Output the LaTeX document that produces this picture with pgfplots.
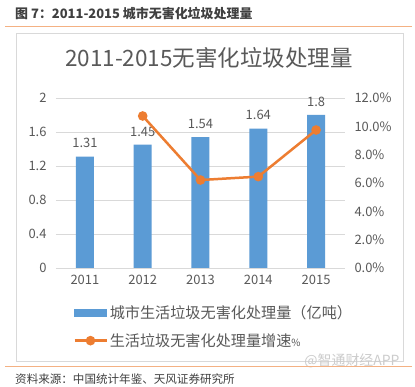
\documentclass[border=0pt]{standalone}
\usepackage{pgfplots}
\pgfplotsset{compat=1.18}
\usepackage{fontspec}
\setmainfont{Noto Sans CJK SC}
\definecolor{barblue}{HTML}{5B9BD5}
\definecolor{lineorange}{HTML}{ED7D31}
\definecolor{txtgray}{HTML}{595959}
\definecolor{gridgray}{HTML}{D9D9D9}
\definecolor{hdrline}{HTML}{F4B183}
\definecolor{hdrtext}{HTML}{404040}
\begin{document}
\begin{tikzpicture}[x=1bp,y=1bp]
\path[use as bounding box, fill=white] (0,0) rectangle (415,387);
\node[anchor=west, font=\fontsize{13}{15}\selectfont\bfseries, text=hdrtext, inner sep=0] at (15,373) {图 7：2011-2015 城市无害化垃圾处理量};
\draw[hdrline, line width=1bp] (5,360) -- (412,360);
\draw[gridgray, line width=0.8bp] (16,26) rectangle (403,354);
\node[font=\fontsize{22.6}{26}\selectfont, text=txtgray] at (209,329) {2011-2015无害化垃圾处理量};
\begin{axis}[
  at={(56bp,119bp)}, anchor=south west, scale only axis,
  width=289bp, height=170bp,
  xmin=-0.5, xmax=4.5, ymin=0, ymax=2,
  xtick={0,1,2,3,4}, xticklabels={2011,2012,2013,2014,2015},
  ytick={0,0.4,0.8,1.2,1.6,2},
  yticklabels={0,0.4,0.8,1.2,1.6,2},
  axis line style={draw=none}, major tick length=0,
  ymajorgrids, grid style={gridgray, line width=0.8bp},
  tick label style={font=\fontsize{13}{15}\selectfont, text=txtgray},
  yticklabel style={xshift=-6bp},
  xticklabel style={yshift=-4bp},
]
\addplot[ybar, bar width=18bp, fill=barblue, draw=none,
  point meta=explicit symbolic, nodes near coords,
  nodes near coords style={font=\fontsize{13}{15}\selectfont, text=txtgray, yshift=5bp}]
  coordinates {(0,1.31)[1.31] (1,1.45)[1.45] (2,1.54)[1.54] (3,1.64)[1.64] (4,1.8)[1.8]};
\end{axis}
\begin{axis}[
  at={(56bp,119bp)}, anchor=south west, scale only axis,
  width=289bp, height=170bp,
  xmin=-0.5, xmax=4.5, ymin=0, ymax=12,
  hide x axis,
  yticklabel pos=right,
  ytick={0,2,4,6,8,10,12},
  yticklabels={0.0\%,2.0\%,4.0\%,6.0\%,8.0\%,10.0\%,12.0\%},
  axis line style={draw=none}, major tick length=0,
  tick label style={font=\fontsize{13}{15}\selectfont, text=txtgray},
  yticklabel style={xshift=6bp},
  legend style={at={(0.059,-0.205)}, anchor=north west, draw=none, fill=none,
    inner sep=0pt, row sep=10bp, font=\fontsize{15.2}{17}\selectfont, text=txtgray,
    nodes={inner sep=2bp}},
  legend cell align=left,
]
\addlegendimage{legend image code/.code={\fill[barblue] (0bp,-3.5bp) rectangle (32bp,3.5bp);}}
\addlegendentry{城市生活垃圾无害化处理量（亿吨）}
\addplot[lineorange, line width=2.5bp, mark=*, mark size=3.5bp,
  legend image code/.code={\draw[lineorange,line width=2.5bp] (0bp,0bp) -- (32bp,0bp); \fill[lineorange] (16bp,0bp) circle (3.5bp);}]
  coordinates {(1,10.73) (2,6.21) (3,6.45) (4,9.74)};
\addlegendentry{生活垃圾无害化处理量增速{\fontsize{10}{12}\selectfont\%}}
\end{axis}
\node[font=\fontsize{14}{16}\selectfont, text=gray!40] at (352,26) {@智通财经APP};
\draw[hdrline, line width=1bp] (5,20) -- (412,20);
\node[anchor=west, font=\fontsize{11.6}{13}\selectfont, text=hdrtext, inner sep=0] at (15,8) {资料来源：中国统计年鉴、天风证券研究所};
\end{tikzpicture}
\end{document}
